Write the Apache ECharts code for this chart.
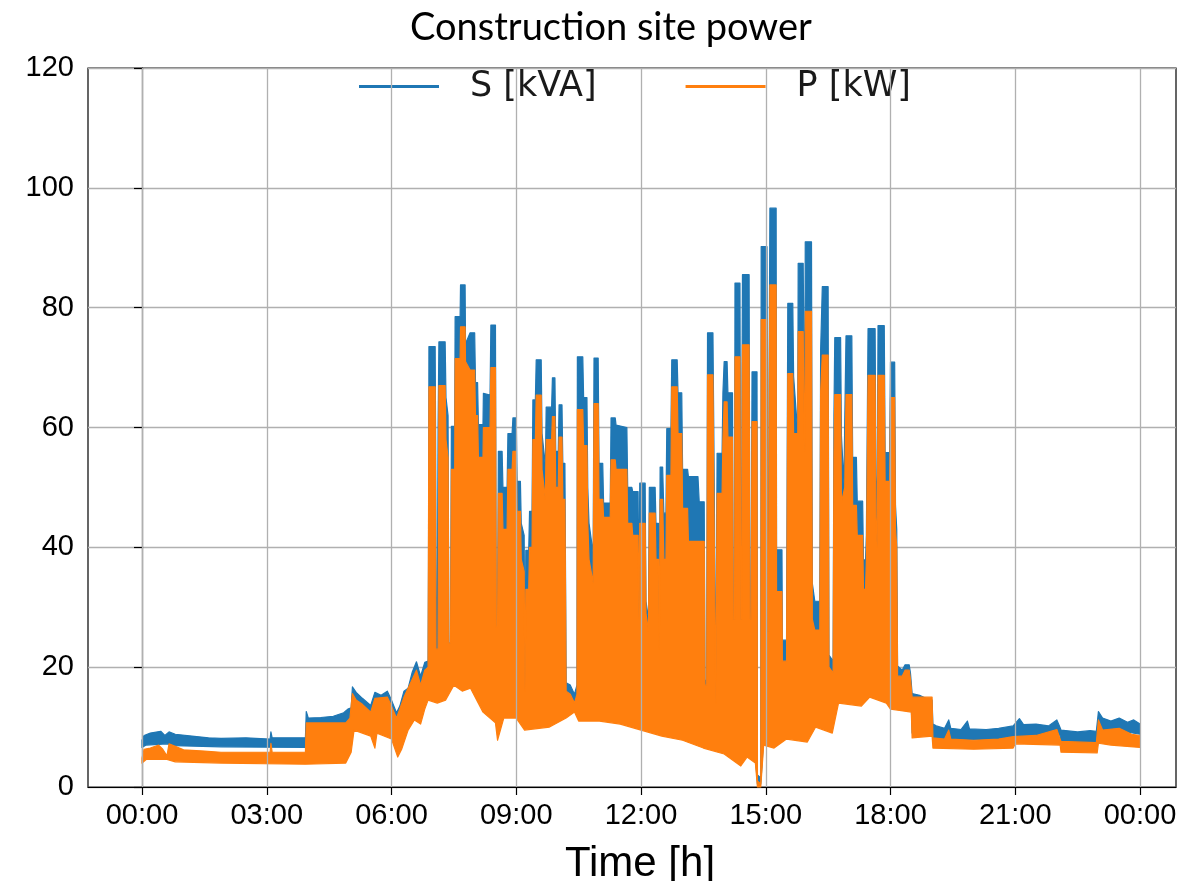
<!DOCTYPE html>
<html>
<head>
<meta charset="utf-8">
<script src="https://cdn.jsdelivr.net/npm/echarts@6/dist/echarts.min.js"></script>
<style>
  html, body { margin: 0; padding: 0; background: #fff; }
  #chart { width: 1204px; height: 881px; }
</style>
</head>
<body>
<div id="chart"></div>
<script>
// tick positions (hours) and y range
const hourTicks = [0, 3, 6, 9, 12, 15, 18, 21, 24];
const yMin = 0, yMax = 120, yStep = 20;

// S [kVA]: upper envelope [hour, value]
const sTop = [
  [0.0, 7.8], [0.05, 8.6], [0.2, 9.0], [0.45, 9.3], [0.55, 8.6], [0.65, 9.2], [0.8, 8.8], [1.2, 8.5],
  [1.6, 8.2], [1.9, 8.1], [2.5, 8.2], [3.08, 8.0], [3.1, 9.2], [3.13, 8.2], [3.93, 8.2],
  [3.95, 12.6], [4.0, 11.5], [4.3, 11.6], [4.6, 11.8], [4.85, 12.4], [4.95, 13.0], [5.03, 13.2],
  [5.06, 16.7], [5.15, 15.8], [5.3, 14.8], [5.5, 13.6], [5.6, 15.8], [5.75, 15.3], [5.9, 16.0],
  [6.0, 14.5], [6.12, 12.4], [6.2, 13.5], [6.3, 16.0], [6.4, 16.5], [6.5, 19.2], [6.6, 20.9],
  [6.7, 18.5], [6.8, 20.8], [6.88, 21.0], [6.89, 37], [6.9, 73.5], [7.05, 73.5], [7.06, 60],
  [7.08, 23], [7.1, 23], [7.12, 60], [7.14, 74.3], [7.29, 74.3], [7.31, 65], [7.36, 62], [7.38, 24],
  [7.42, 24], [7.44, 60.2], [7.52, 60.2], [7.53, 78.5], [7.65, 78.5], [7.66, 83.8], [7.77, 83.8],
  [7.78, 74], [7.89, 75.8], [8.0, 75.8], [8.02, 67.5], [8.07, 67.5], [8.09, 60.5], [8.2, 60.5],
  [8.21, 65.7], [8.37, 65.4], [8.39, 77.1], [8.5, 77.1], [8.52, 26.7], [8.55, 26.7], [8.57, 56],
  [8.66, 56], [8.68, 50], [8.78, 50], [8.8, 59], [8.9, 59], [8.92, 61.6], [9.0, 61.6], [9.02, 51],
  [9.1, 51], [9.12, 44], [9.19, 42], [9.21, 17], [9.23, 39.5], [9.3, 39.5], [9.32, 46], [9.38, 46],
  [9.4, 64.6], [9.46, 64.6], [9.48, 71.3], [9.6, 71.3], [9.62, 59], [9.7, 53.6], [9.72, 63.4],
  [9.85, 63.4], [9.87, 68.3], [9.93, 68.3], [9.95, 56], [10.01, 56], [10.03, 63.8], [10.1, 63.8],
  [10.12, 54], [10.17, 54], [10.2, 17.4], [10.3, 17.0], [10.4, 15.5], [10.46, 17], [10.47, 71.8],
  [10.6, 71.8], [10.62, 65], [10.7, 65], [10.72, 50], [10.75, 44], [10.85, 39], [10.87, 71.6],
  [10.97, 71.6], [10.99, 54], [11.08, 54], [11.1, 47.4], [11.26, 47.4], [11.28, 61.6], [11.38, 61.6],
  [11.4, 60.4], [11.66, 60], [11.68, 50], [11.78, 50], [11.8, 49.3], [11.93, 49.3], [11.95, 30],
  [11.97, 50.7], [12.1, 50.7], [12.12, 31], [12.18, 28], [12.2, 50], [12.34, 50], [12.36, 44],
  [12.42, 44], [12.44, 25], [12.46, 53.4], [12.52, 53.4], [12.55, 45.7], [12.6, 45.7], [12.62, 59.8],
  [12.72, 59.8], [12.74, 71.3], [12.87, 71.3], [12.89, 65.8], [12.98, 65.8], [13.0, 53], [13.12, 53],
  [13.14, 51.8], [13.37, 51.8], [13.4, 47.6], [13.52, 47.6], [13.54, 17.8], [13.58, 17.8],
  [13.6, 75.8], [13.73, 75.8], [13.75, 60], [13.8, 15], [13.83, 55.7], [13.95, 55.7], [13.97, 65.8],
  [14.0, 71], [14.07, 71], [14.09, 65.8], [14.2, 65.8], [14.22, 30], [14.25, 30], [14.26, 84.1],
  [14.38, 84.1], [14.4, 30], [14.42, 30], [14.43, 68.5], [14.44, 85.5], [14.6, 85.5], [14.62, 30],
  [14.65, 30], [14.67, 69.3], [14.79, 69.3], [14.8, 2], [14.88, 1.5], [14.89, 90.2], [15.03, 90.2],
  [15.05, 28], [15.07, 28], [15.08, 68], [15.1, 96.6], [15.25, 96.6], [15.26, 39.6], [15.39, 39.6],
  [15.4, 24.5], [15.5, 24.5], [15.52, 62], [15.53, 80.7], [15.65, 80.7], [15.67, 68.5], [15.77, 59],
  [15.78, 87.4], [15.9, 87.4], [15.92, 72], [15.94, 63], [15.95, 91], [16.1, 91], [16.12, 34],
  [16.18, 31], [16.3, 31], [16.32, 73], [16.36, 83.5], [16.5, 83.5], [16.52, 22], [16.62, 21],
  [16.64, 62], [16.66, 75], [16.8, 75], [16.82, 58.6], [16.88, 50.6], [16.9, 61], [16.93, 75.3],
  [17.07, 75.3], [17.09, 55], [17.18, 55], [17.2, 47.7], [17.33, 47.7], [17.35, 37.9], [17.4, 37.9],
  [17.42, 42], [17.46, 76.5], [17.63, 76.5], [17.65, 52], [17.68, 45], [17.7, 77], [17.85, 77],
  [17.87, 55.8], [17.98, 55.8], [18.0, 70.9], [18.1, 70.9], [18.12, 47], [18.15, 43], [18.17, 20.2],
  [18.28, 19.5], [18.35, 20.4], [18.45, 20.4], [18.48, 19], [18.52, 15.6], [18.7, 15.3],
  [18.85, 14.8], [19.0, 14.5], [19.02, 10.5], [19.1, 10.2], [19.3, 9.8], [19.4, 11.2], [19.45, 9.8],
  [19.7, 9.6], [19.85, 11.0], [19.9, 9.7], [20.3, 9.6], [20.6, 9.8], [20.95, 10.2], [21.1, 11.4],
  [21.2, 10.4], [21.5, 10.5], [21.8, 10.2], [22.0, 11.2], [22.05, 10.4], [22.1, 9.5], [22.5, 9.2],
  [22.8, 9.4], [22.95, 9.3], [23.0, 12.6], [23.1, 11.5], [23.3, 11.0], [23.5, 11.5], [23.7, 10.8],
  [23.85, 11.2], [24.0, 10.5]
];

// S [kVA]: lower envelope
const sLow = [
  [0.0, 6.6], [0.1, 7.0], [0.6, 7.2], [0.8, 6.9], [1.9, 6.7], [3.93, 6.6], [3.95, 5.5], [4.9, 5.5],
  [5.03, 7.0], [5.1, 10.5], [5.5, 9.5], [5.6, 8.0], [5.65, 10.0], [6.0, 9.0], [6.15, 6.5],
  [6.25, 7.5], [6.4, 10.5], [6.55, 12.2], [6.7, 11.5], [6.8, 14.0], [6.88, 15.5], [7.1, 15.0],
  [7.3, 15.5], [7.5, 18.0], [7.7, 17.0], [7.9, 17.5], [8.05, 15.5], [8.2, 13.5], [8.5, 11.7],
  [8.55, 9.0], [8.7, 12.5], [9.0, 12.5], [9.2, 10.5], [9.8, 11.0], [10.2, 12.5], [10.4, 13.5],
  [10.5, 12.0], [11.0, 12.0], [11.5, 11.5], [12.0, 10.5], [12.5, 9.5], [13.0, 8.8], [13.5, 7.5],
  [14.0, 6.5], [14.2, 5.5], [14.4, 4.5], [14.55, 6.0], [14.75, 5.0], [14.8, 0.5], [14.88, 0.5],
  [14.95, 8.0], [15.2, 7.5], [15.5, 9.0], [16.0, 8.5], [16.2, 11.0], [16.6, 10.0], [16.75, 15.0],
  [17.3, 14.5], [17.5, 16.0], [17.9, 15.0], [18.0, 14.0], [18.3, 13.7], [18.5, 13.5], [18.52, 9.0],
  [19.0, 9.0], [19.02, 8.0], [20.0, 7.9], [20.6, 8.0], [20.95, 8.4], [21.5, 8.6], [22.0, 8.8],
  [22.08, 8.6], [22.1, 7.5], [22.97, 7.4], [23.0, 9.5], [23.5, 9.4], [24.0, 8.8]
];

// P [kW]: upper envelope
const pTop = [
  [0.0, 4.8], [0.05, 6.3], [0.2, 6.5], [0.4, 7.0], [0.5, 6.3], [0.6, 5.2], [0.65, 7.2], [0.8, 6.8],
  [1.0, 6.2], [1.5, 6.0], [1.9, 5.8], [3.08, 5.8], [3.1, 7.3], [3.13, 5.8], [3.93, 5.8],
  [3.95, 10.7], [4.9, 10.7], [5.0, 11.5], [5.06, 15.6], [5.15, 14.5], [5.3, 13.8], [5.5, 12.5],
  [5.6, 14.8], [5.9, 15], [6.0, 13.5], [6.12, 11.5], [6.3, 15], [6.5, 18], [6.6, 19.5], [6.7, 17],
  [6.8, 19.5], [6.88, 20], [6.9, 66.8], [7.05, 66.8], [7.07, 23], [7.12, 23], [7.14, 67], [7.29, 67],
  [7.31, 58], [7.36, 55], [7.38, 24], [7.42, 24], [7.44, 53], [7.52, 53], [7.53, 71.5], [7.65, 71.5],
  [7.66, 76.8], [7.77, 76.8], [7.78, 71], [7.89, 69.6], [8.0, 69.6], [8.02, 62], [8.07, 62],
  [8.09, 55], [8.2, 55], [8.21, 60], [8.37, 60], [8.39, 70], [8.5, 70], [8.52, 26.7], [8.55, 26.7],
  [8.57, 49], [8.66, 49], [8.68, 43], [8.78, 43], [8.8, 53], [8.9, 53], [8.92, 56], [9.0, 56],
  [9.02, 46], [9.1, 46], [9.12, 38], [9.19, 36], [9.21, 16], [9.23, 33], [9.3, 33], [9.32, 40],
  [9.38, 40], [9.4, 58], [9.46, 58], [9.48, 65.4], [9.6, 65.4], [9.62, 53], [9.7, 48], [9.72, 58],
  [9.85, 58], [9.87, 61.8], [9.93, 61.8], [9.95, 50], [10.01, 50], [10.03, 58.4], [10.1, 58.4],
  [10.12, 48], [10.17, 48], [10.2, 16], [10.3, 15.5], [10.4, 14], [10.46, 15.5], [10.47, 63],
  [10.6, 63], [10.62, 57], [10.7, 57], [10.72, 44], [10.75, 38], [10.85, 34], [10.87, 64],
  [10.97, 64], [10.99, 48], [11.08, 48], [11.1, 45], [11.26, 45], [11.28, 54.6], [11.38, 54.6],
  [11.4, 53], [11.66, 53], [11.68, 44], [11.78, 44], [11.8, 42], [11.93, 42], [11.95, 28],
  [11.97, 44], [12.1, 44], [12.12, 29], [12.18, 26], [12.2, 45.7], [12.34, 45.7], [12.36, 38],
  [12.42, 38], [12.44, 23], [12.46, 48], [12.52, 48], [12.55, 38], [12.6, 38], [12.62, 52],
  [12.72, 52], [12.74, 66.8], [12.87, 66.8], [12.89, 59], [12.98, 59], [13.0, 46.5], [13.12, 46.5],
  [13.14, 41], [13.52, 41], [13.54, 17], [13.58, 17], [13.6, 68.8], [13.73, 68.8], [13.75, 50],
  [13.8, 14], [13.83, 49], [13.95, 49], [13.97, 58], [14.0, 64.3], [14.07, 64.3], [14.09, 58.4],
  [14.2, 58.4], [14.22, 28], [14.25, 28], [14.26, 71.8], [14.38, 71.8], [14.4, 28], [14.42, 28],
  [14.43, 60], [14.44, 73.8], [14.6, 73.8], [14.62, 28], [14.65, 28], [14.67, 61], [14.79, 61],
  [14.8, 1], [14.88, 0.5], [14.89, 78], [15.03, 78], [15.05, 26], [15.07, 26], [15.08, 60],
  [15.1, 83.8], [15.25, 83.8], [15.26, 32.6], [15.39, 32.6], [15.4, 21], [15.5, 21], [15.52, 55],
  [15.53, 69], [15.65, 69], [15.67, 59], [15.77, 59], [15.78, 76], [15.9, 76], [15.92, 62],
  [15.94, 56], [15.95, 79.4], [16.1, 79.4], [16.12, 28], [16.18, 26.2], [16.3, 26.2], [16.32, 66],
  [16.36, 72.1], [16.5, 72.1], [16.52, 20], [16.62, 19], [16.64, 55], [16.66, 65.5], [16.8, 65.5],
  [16.82, 47.5], [16.9, 50], [16.93, 65.5], [17.07, 65.5], [17.09, 47], [17.18, 47], [17.2, 42],
  [17.33, 42], [17.35, 33], [17.4, 33], [17.42, 38], [17.46, 68.7], [17.63, 68.7], [17.65, 45],
  [17.68, 40], [17.7, 68.7], [17.85, 68.7], [17.87, 51], [17.98, 51], [18.0, 65], [18.1, 65],
  [18.12, 43], [18.15, 40], [18.17, 18.5], [18.28, 18.5], [18.35, 19.5], [18.45, 19.5], [18.48, 18],
  [18.52, 15], [19.0, 15], [19.02, 8.2], [19.3, 8.0], [19.4, 9.5], [19.45, 8.0], [20.0, 7.8],
  [20.6, 8.0], [20.95, 8.4], [21.5, 8.6], [22.0, 9.6], [22.05, 8.6], [22.1, 7.6], [22.95, 7.4],
  [23.0, 11.2], [23.1, 9.5], [23.5, 9.8], [23.8, 8.8], [24.0, 8.6]
];

// P [kW]: lower envelope
const pLow = [
  [0.0, 4.0], [0.1, 4.6], [0.6, 4.6], [0.8, 4.2], [1.9, 4.0], [3.93, 3.8], [4.9, 4.0], [5.03, 5.8],
  [5.1, 9.5], [5.5, 8.5], [5.6, 6.5], [5.65, 9.0], [6.0, 8.0], [6.15, 5.0], [6.25, 6.4], [6.4, 9.5],
  [6.55, 11.2], [6.7, 10.5], [6.8, 13], [6.88, 14.5], [7.1, 14.0], [7.3, 14.5], [7.5, 17.0],
  [7.7, 16.0], [7.9, 16.5], [8.05, 14.5], [8.2, 12.5], [8.5, 10.7], [8.55, 7.8], [8.7, 11.5],
  [9.0, 11.5], [9.2, 9.5], [9.8, 10.0], [10.2, 11.5], [10.4, 12.5], [10.5, 11.0], [11.0, 11.0],
  [11.5, 10.5], [12.0, 9.5], [12.5, 8.5], [13.0, 7.8], [13.5, 6.5], [14.0, 5.5], [14.2, 4.5],
  [14.4, 3.5], [14.55, 5.0], [14.75, 4.0], [14.8, 0], [14.88, 0], [14.95, 7.0], [15.2, 6.5],
  [15.5, 8.0], [16.0, 7.5], [16.2, 10.0], [16.6, 9.0], [16.75, 14.0], [17.3, 13.5], [17.5, 15.0],
  [17.9, 14.0], [18.0, 13], [18.3, 12.7], [18.5, 12.5], [18.52, 8.2], [19.0, 8.5], [19.02, 6.5],
  [20.0, 6.3], [20.95, 6.5], [21.0, 7.2], [22.08, 7.0], [22.1, 5.8], [22.97, 5.7], [23.0, 7.3],
  [23.3, 7.0], [24.0, 6.6]
];

const chart = echarts.init(document.getElementById('chart'));

// px per hour from the picture: 00:00 at x=142, 24:00 at x=1140
const gridLeft = 88, gridRight = 28;
const pxPerHour = (1140 - 142) / 24;
const xMin = -(142 - gridLeft) / pxPerHour;
const xMax = 24 + (1204 - gridRight - 1140) / pxPerHour;

function band(top, low, color) {
  return function (params, api) {
    const pts = [];
    top.forEach(function (p) { pts.push(api.coord(p)); });
    for (let i = low.length - 1; i >= 0; i--) pts.push(api.coord(low[i]));
    return {
      type: 'polygon',
      shape: { points: pts },
      style: { fill: color, stroke: color, lineWidth: 1.2, lineJoin: 'round' }
    };
  };
}

function hhmm(v) {
  const h = Math.round(v) % 24;
  return (h < 10 ? '0' : '') + h + ':00';
}

const option = {
  animation: false,
  backgroundColor: '#fff',
  title: {
    text: 'Construction site power',
    left: 405,
    top: 4,
    textStyle: { fontFamily: 'Lato', fontSize: 38, fontWeight: 'normal', color: '#000' }
  },
  legend: {
    left: 359,
    top: 69,
    padding: 0,
    itemWidth: 80,
    itemHeight: 3,
    itemGap: 89,
    icon: 'rect',
    textStyle: { fontFamily: 'DejaVu Sans', fontSize: 35, color: '#1a1a1a', padding: [0, 0, 0, 26] },
    data: ['S [kVA]', 'P [kW]']
  },
  grid: {
    left: gridLeft, right: gridRight, top: 68, bottom: 94,
    outerBoundsMode: 'none',
    show: true, borderColor: '#000', borderWidth: 1.2
  },
  xAxis: {
    type: 'value',
    min: xMin,
    max: xMax,
    name: 'Time [h]',
    nameLocation: 'middle',
    nameGap: 56,
    nameTextStyle: { fontFamily: 'Liberation Sans', fontSize: 42, color: '#000', padding: [0, 0, 0, 16] },
    axisLine: { show: true, lineStyle: { color: '#000', width: 1.2 } },
    axisTick: { show: true, customValues: hourTicks, length: 8, lineStyle: { color: '#000', width: 1.2 } },
    axisLabel: {
      customValues: hourTicks, formatter: hhmm, margin: 14,
      fontFamily: 'Liberation Sans', fontSize: 29, color: '#000'
    },
    splitLine: { show: false }
  },
  yAxis: {
    type: 'value',
    min: yMin, max: yMax, interval: yStep,
    axisLine: { show: true, lineStyle: { color: '#000', width: 1.2 } },
    axisTick: { show: true, length: 8, lineStyle: { color: '#000', width: 1.2 } },
    axisLabel: { margin: 14, fontFamily: 'Liberation Sans', fontSize: 29, color: '#000' },
    splitLine: { show: true, lineStyle: { color: '#b0b0b0', width: 1.3 } }
  },
  series: [
    {
      // vertical grid lines at the hour ticks
      type: 'line',
      data: [],
      z: 1,
      silent: true,
      markLine: {
        silent: true,
        symbol: 'none',
        label: { show: false },
        lineStyle: { color: '#b0b0b0', width: 1.3, type: 'solid' },
        data: hourTicks.map(function (h) { return { xAxis: h }; })
      }
    },
    {
      name: 'S [kVA]',
      type: 'custom',
      z: 2,
      itemStyle: { color: '#1f77b4' },
      data: [[0, 0]],
      renderItem: band(sTop, sLow, '#1f77b4')
    },
    {
      name: 'P [kW]',
      type: 'custom',
      z: 3,
      itemStyle: { color: '#ff7f0e' },
      data: [[0, 0]],
      renderItem: band(pTop, pLow, '#ff7f0e')
    }
  ]
};

chart.setOption(option);
</script>
</body>
</html>
